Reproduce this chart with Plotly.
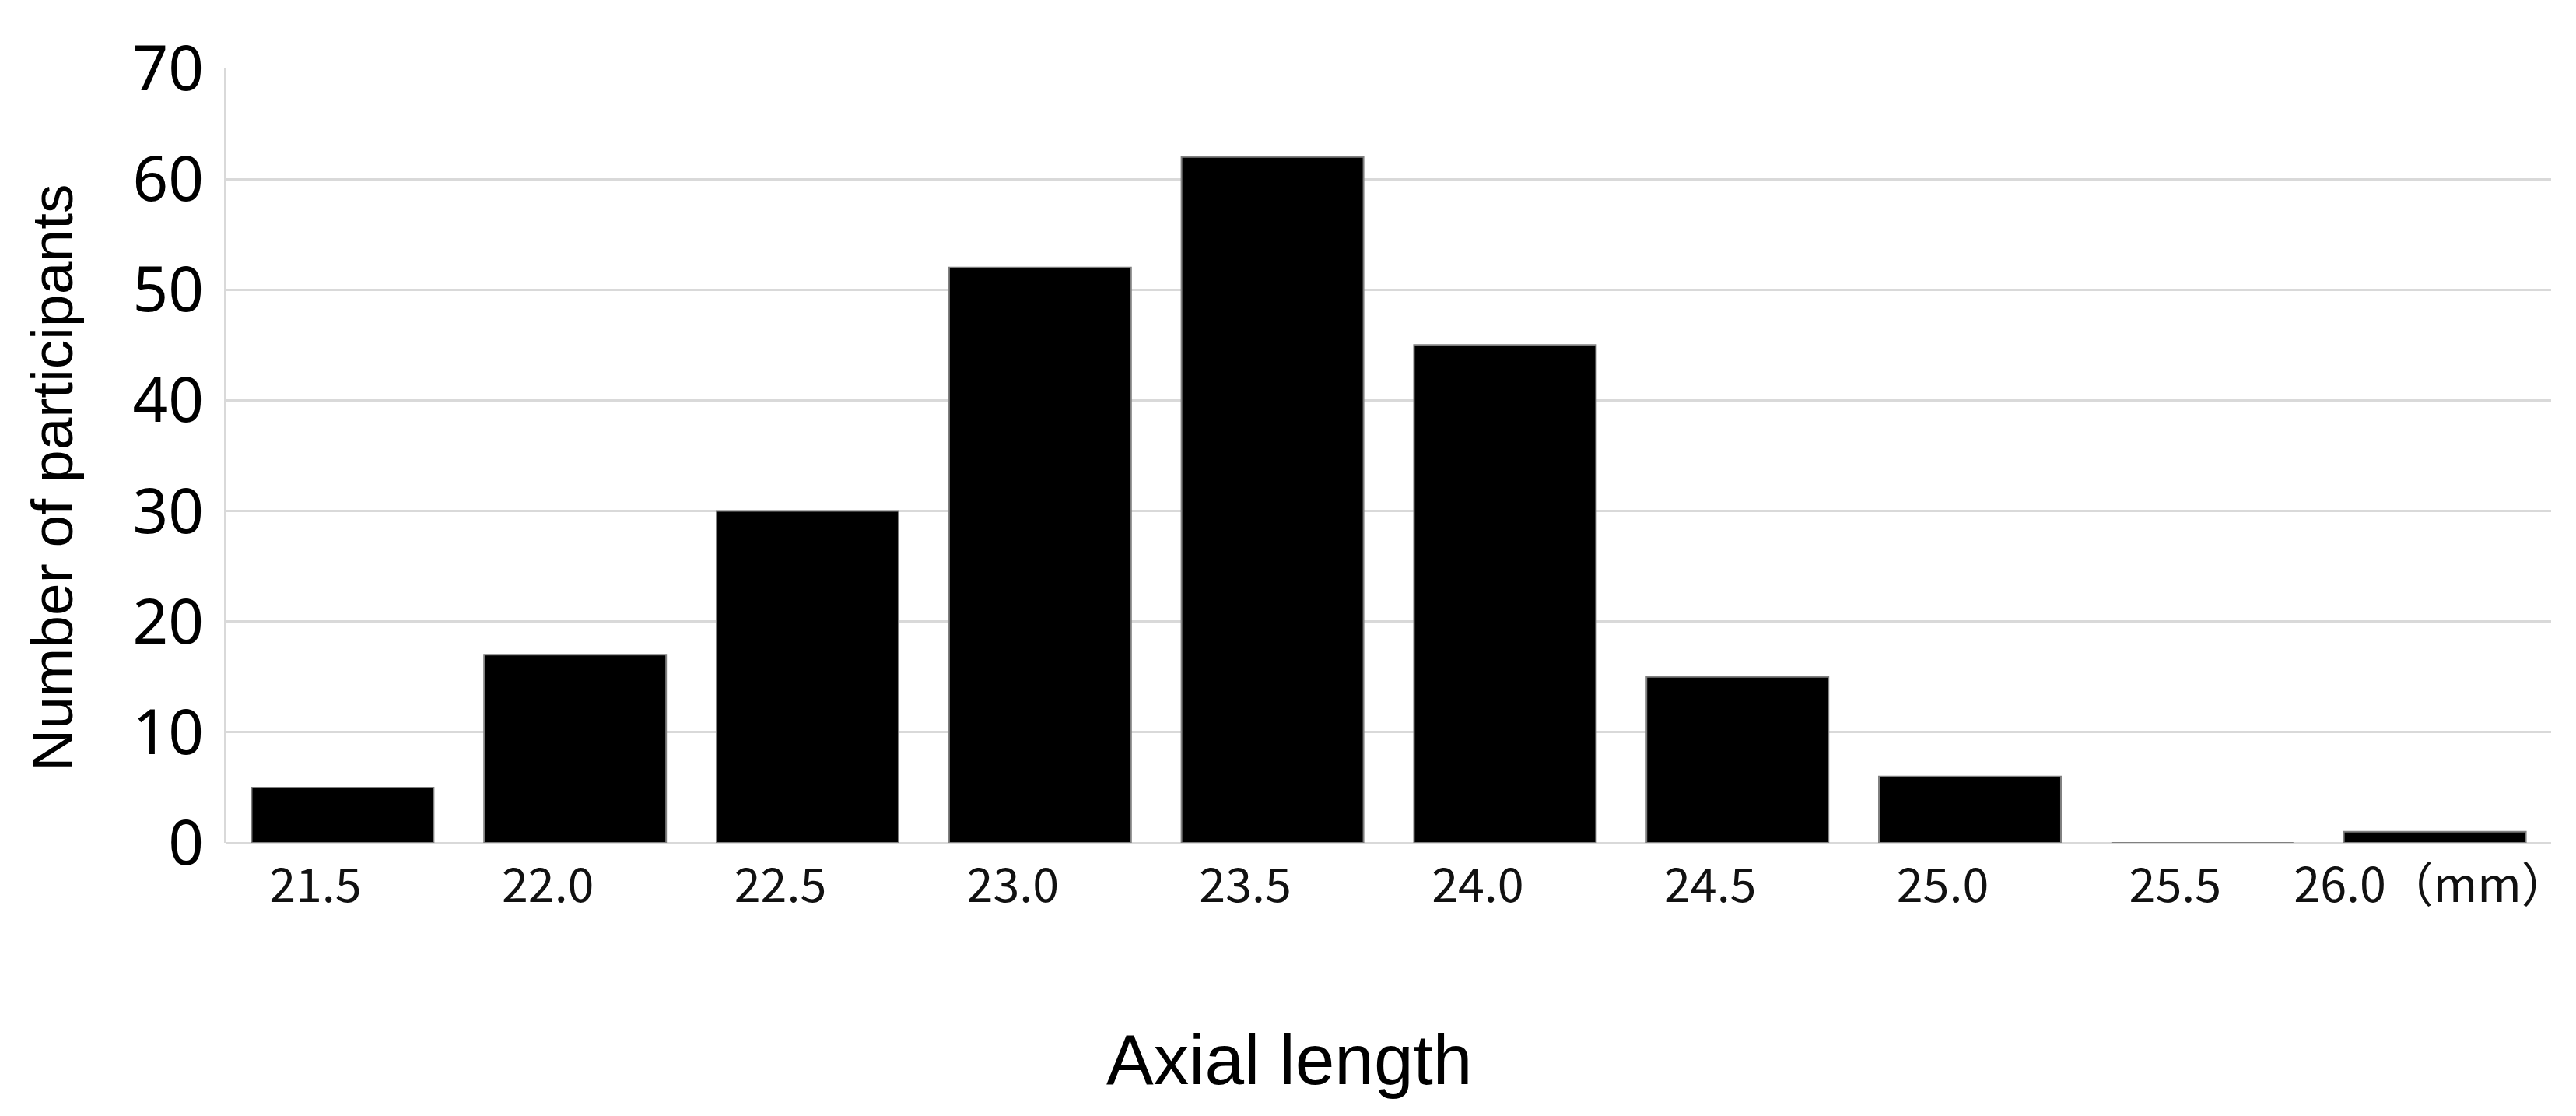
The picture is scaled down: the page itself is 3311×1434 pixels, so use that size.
import plotly.graph_objects as go

categories = ["21.5", "22.0", "22.5", "23.0", "23.5", "24.0", "24.5", "25.0", "25.5", "26.0"]
tick_labels = ["21.5", "22.0", "22.5", "23.0", "23.5", "24.0", "24.5", "25.0", "25.5", "\u300026.0（mm）"]
participants = [5, 17, 30, 52, 62, 45, 15, 6, 0, 1]
y_ticks = [0, 10, 20, 30, 40, 50, 60, 70]

fig = go.Figure(
    go.Bar(
        x=categories,
        y=participants,
        marker=dict(color="#000000", line=dict(color="#808080", width=2)),
    )
)

fig.update_layout(
    width=3311,
    height=1434,
    paper_bgcolor="white",
    plot_bgcolor="white",
    margin=dict(l=250, r=40, t=80, b=359, autoexpand=False),
    bargap=0.217,
    showlegend=False,
    annotations=[
        dict(
            text="Number of participants",
            xref="paper", yref="paper",
            x=-0.063, y=0.472,
            xanchor="center", yanchor="middle",
            textangle=-90, showarrow=False,
            font=dict(family="Liberation Sans, Arial, sans-serif", size=75, color="#000000"),
        ),
        dict(
            text="Axial length",
            xref="paper", yref="paper",
            x=0.463, y=-0.2804,
            xanchor="center", yanchor="middle",
            showarrow=False,
            font=dict(family="Liberation Sans, Arial, sans-serif", size=91, color="#000000"),
        ),
    ],
)

fig.update_xaxes(
    type="category",
    domain=[0.010924, 1.0],
    tickvals=categories,
    ticktext=tick_labels,
    tickangle=0,
    automargin=False,
    tickfont=dict(family="Noto Sans CJK JP, sans-serif", size=61, color="#111111"),
    ticks="",
    ticklabelstandoff=14,
    ticklabelshift=-35,
    showline=False,
    showgrid=False,
)

fig.update_yaxes(
    range=[0, 70],
    tickvals=y_ticks,
    automargin=False,
    tickfont=dict(family="Noto Sans, sans-serif", size=80, color="#000000"),
    ticks="",
    ticklabelstandoff=10,
    showgrid=True,
    gridcolor="#d9d9d9",
    gridwidth=3,
    showline=True,
    linecolor="#d9d9d9",
    linewidth=3,
    zeroline=True,
    zerolinecolor="#d9d9d9",
    zerolinewidth=3,
)

fig.write_html("out.html")
